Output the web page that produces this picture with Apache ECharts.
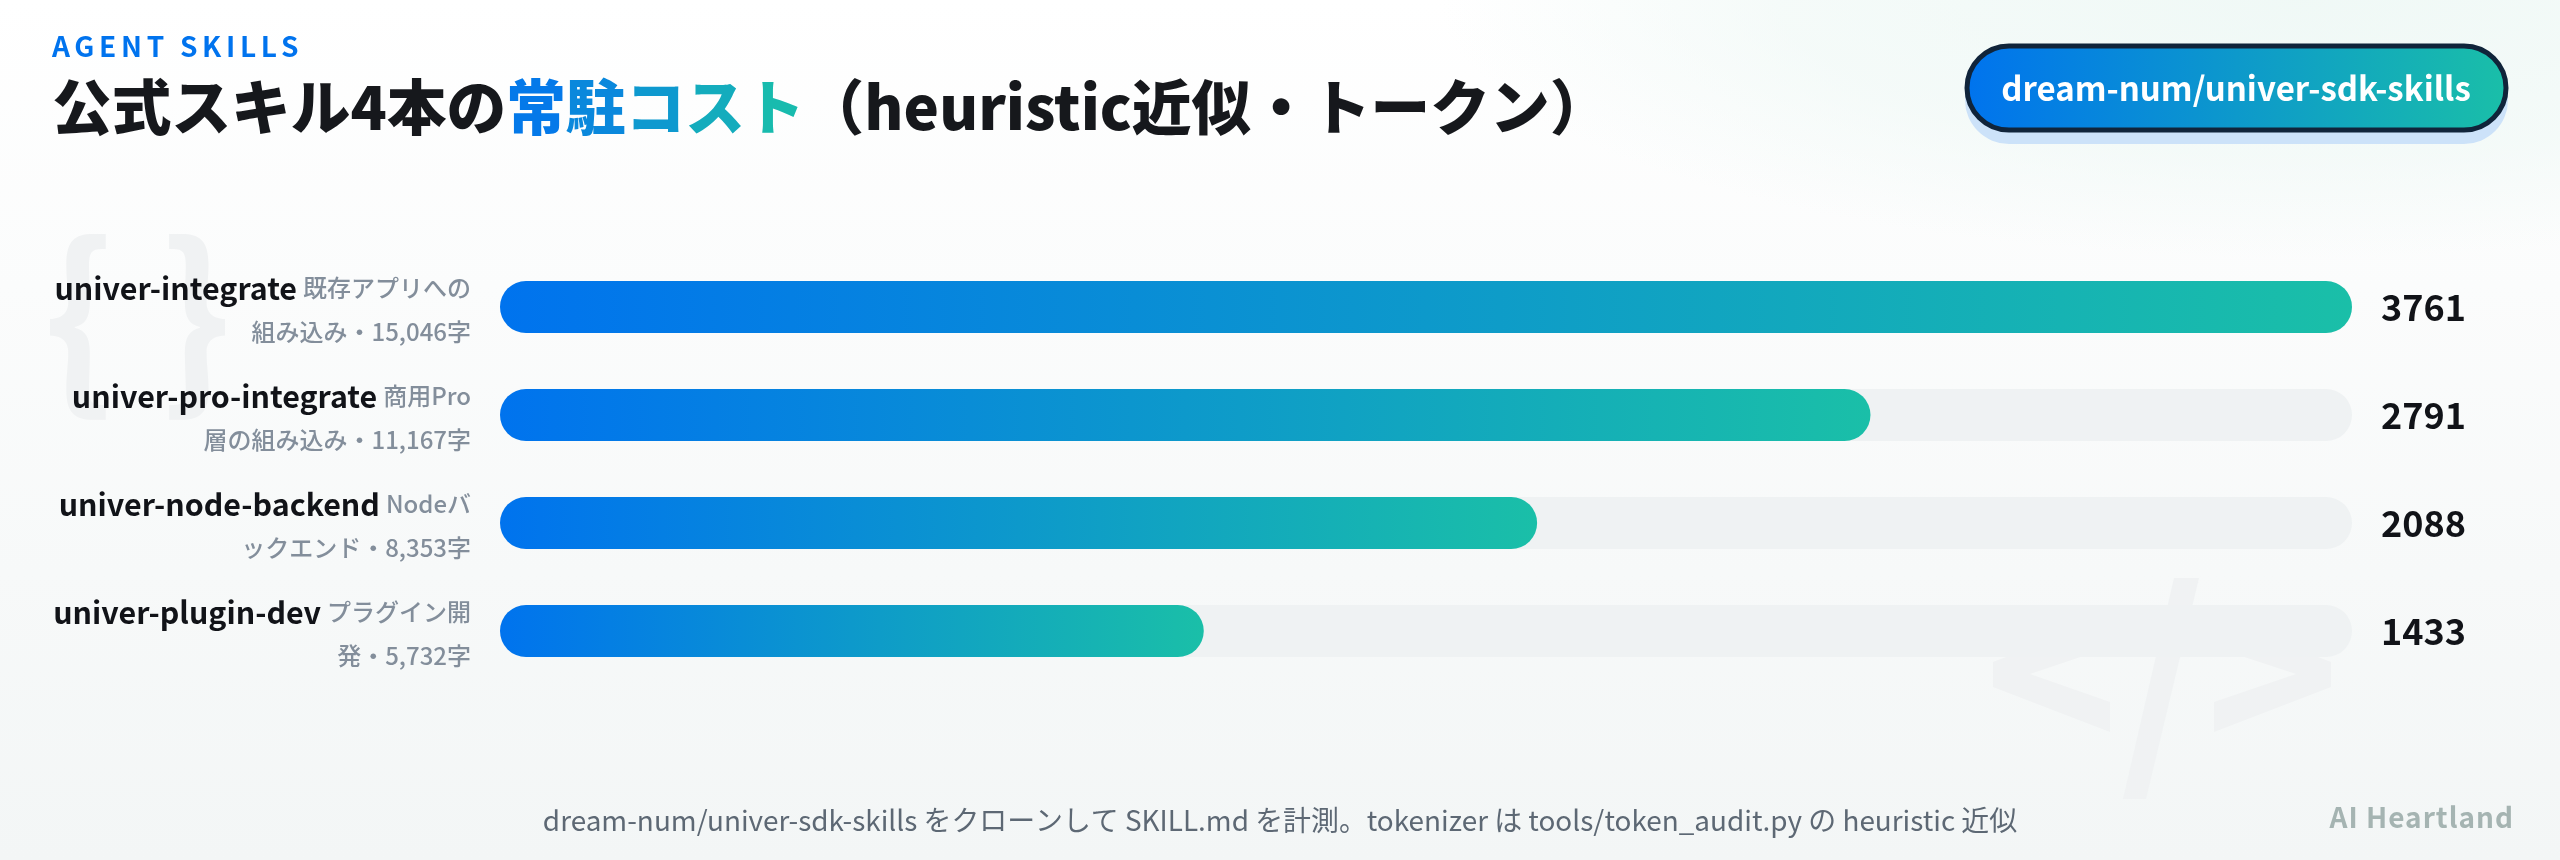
<!DOCTYPE html>
<html>
<head>
<meta charset="utf-8">
<style>
  html, body { margin: 0; padding: 0; background: #fff; }
  #chart { width: 2560px; height: 860px; }
</style>
<script src="https://cdn.jsdelivr.net/npm/echarts@6/dist/echarts.min.js"></script>
</head>
<body>
<div id="chart"></div>
<script>
const skillNames = ["univer-integrate", "univer-pro-integrate", "univer-node-backend", "univer-plugin-dev"];
const descFirst = ["既存アプリへの", "商用Pro", "Nodeバ", "プラグイン開"];
const descSecond = ["組み込み・15,046字", "層の組み込み・11,167字", "ックエンド・8,353字", "発・5,732字"];
const tokens = [3761, 2791, 2088, 1433];
// the bars are drawn at the rounded share of the largest skill
const barPercents = [100, 74, 56, 38];

const FONT = '"Noto Sans CJK JP", "Noto Sans", sans-serif';
const BLUE = "#0073ee";
const TEAL = "#1abfa8";

// solid colours along the blue-teal gradient, one per character of the highlighted word
const highlightChars = ["常", "駐", "コ", "ス", "ト"];
const highlightColors = ["#0479e9", "#0a88dc", "#0e99cf", "#14acbd", "#18bbae"];

function hGrad(a, b) {
  return new echarts.graphic.LinearGradient(0, 0, 1, 0, [
    { offset: 0, color: a },
    { offset: 1, color: b },
  ]);
}

function label(x, y, text, size, weight, fill, extra) {
  return {
    type: "text",
    x: x,
    y: y,
    z: 10,
    silent: true,
    style: Object.assign({
      text: text,
      font: weight + " " + size + "px " + FONT,
      fill: fill,
      textVerticalAlign: "middle",
    }, extra || {}),
  };
}

const TITLE_FONT = "900 59.7px " + FONT;
const titleRich = { dark: { fill: "#16181c", font: TITLE_FONT } };
highlightColors.forEach((c, i) => {
  titleRich["c" + i] = { fill: c, font: TITLE_FONT };
});
const titleText = "{dark|公式スキル4本の}"
  + highlightChars.map((ch, i) => "{c" + i + "|" + ch + "}").join("")
  + "{dark|（heuristic近似・トークン）}";

const WATERMARK = "#f0f2f3";
const watermarks = [
  { type: "polygon", z: 0, silent: true, shape: { points: [[1993, 662], [2110, 617], [2110, 647], [2030, 674], [2110, 702], [2110, 732], [1993, 687]] }, style: { fill: WATERMARK } },
  { type: "polygon", z: 0, silent: true, shape: { points: [[2331, 662], [2214, 617], [2214, 647], [2296, 674], [2214, 702], [2214, 732], [2331, 687]] }, style: { fill: WATERMARK } },
  { type: "polygon", z: 0, silent: true, shape: { points: [[2174, 578], [2199, 578], [2146, 799], [2123, 799]] }, style: { fill: WATERMARK } },
  { type: "text", x: 43, y: 315, z: 0, silent: true, style: { text: "{", font: "700 190px " + FONT, fill: WATERMARK, textVerticalAlign: "middle" } },
  { type: "text", x: 160, y: 315, z: 0, silent: true, style: { text: "}", font: "700 190px " + FONT, fill: WATERMARK, textVerticalAlign: "middle" } },
];

const chart = echarts.init(document.getElementById("chart"), null, { renderer: "canvas" });

// letter spacing is only available on the canvas context, so those two texts get their own layers
chart.getZr().painter.getLayer(5).ctx.letterSpacing = "4.7px";
chart.getZr().painter.getLayer(6).ctx.letterSpacing = "1px";

chart.setOption({
  animation: false,
  backgroundColor: new echarts.graphic.LinearGradient(0, 0, 0, 1, [
    { offset: 0, color: "#ffffff" },
    { offset: 1, color: "#f3f6f6" },
  ]),
  textStyle: { fontFamily: FONT },
  graphic: [
    {
      // faint green tint along the top right, squashed into an ellipse
      type: "rect", z: -1, silent: true, scaleY: 0.3,
      shape: { x: 1440, y: -860, width: 1720, height: 1720 },
      style: {
        fill: new echarts.graphic.RadialGradient(0.5, 0.5, 0.5, [
          { offset: 0, color: "rgba(238,248,245,0.9)" },
          { offset: 0.6, color: "rgba(238,248,245,0.6)" },
          { offset: 1, color: "rgba(238,248,245,0)" },
        ]),
      },
    },
    ...watermarks,
    Object.assign(label(52, 46, "AGENT SKILLS", 28, 700, BLUE), { zlevel: 5 }),
    {
      type: "text", x: 52, y: 107, z: 10, silent: true,
      style: { text: titleText, rich: titleRich, font: TITLE_FONT, textVerticalAlign: "middle" },
    },
    { type: "rect", z: 5, silent: true, shape: { x: 1965, y: 56, width: 543, height: 88, r: 44 }, style: { fill: "#cce2f9" } },
    {
      type: "rect", z: 6, silent: true,
      shape: { x: 1967, y: 46, width: 539, height: 84, r: 42 },
      style: { fill: hGrad(BLUE, TEAL), stroke: "#10243a", lineWidth: 5 },
    },
    label(2236, 88, "dream-num/univer-sdk-skills", 33, 700, "#ffffff", { textAlign: "center" }),
    label(1280, 820, "dream-num/univer-sdk-skills をクローンして SKILL.md を計測。tokenizer は tools/token_audit.py の heuristic 近似", 27.9, 400, "#5d6874", { textAlign: "center" }),
    Object.assign(label(2514, 817, "AI Heartland", 28, 700, "#a5b4b2", { textAlign: "right" }), { zlevel: 6 }),
  ],
  grid: { left: 500, top: 253, width: 1852, height: 432, containLabel: false },
  xAxis: { type: "value", min: 0, max: 100, show: false },
  yAxis: [
    {
      type: "category",
      inverse: true,
      data: skillNames,
      axisLine: { show: false },
      axisTick: { show: false },
      axisLabel: {
        margin: 29,
        align: "right",
        lineHeight: 44,
        padding: [6, 0, 0, 0],
        formatter: (name, i) => "{name|" + name + "}{gap|}{desc|" + descFirst[i] + "}\n{desc|" + descSecond[i] + "}",
        rich: {
          name: { fontSize: 30.4, fontWeight: 700, color: "#111318", fontFamily: FONT, lineHeight: 44 },
          gap: { width: 6, lineHeight: 44 },
          desc: { fontSize: 24, fontWeight: 500, color: "#838e9b", fontFamily: FONT, lineHeight: 44 },
        },
      },
    },
    {
      type: "category",
      inverse: true,
      position: "right",
      data: tokens.map(String),
      axisLine: { show: false },
      axisTick: { show: false },
      axisLabel: { margin: 29, align: "left", fontSize: 36, fontWeight: 700, color: "#111318", fontFamily: FONT },
    },
  ],
  series: [
    {
      type: "bar",
      data: barPercents,
      barWidth: 52,
      showBackground: true,
      backgroundStyle: { color: "#eff2f3", borderRadius: 26 },
      itemStyle: { color: hGrad(BLUE, TEAL), borderRadius: 26 },
      silent: true,
    },
  ],
});
</script>
</body>
</html>
